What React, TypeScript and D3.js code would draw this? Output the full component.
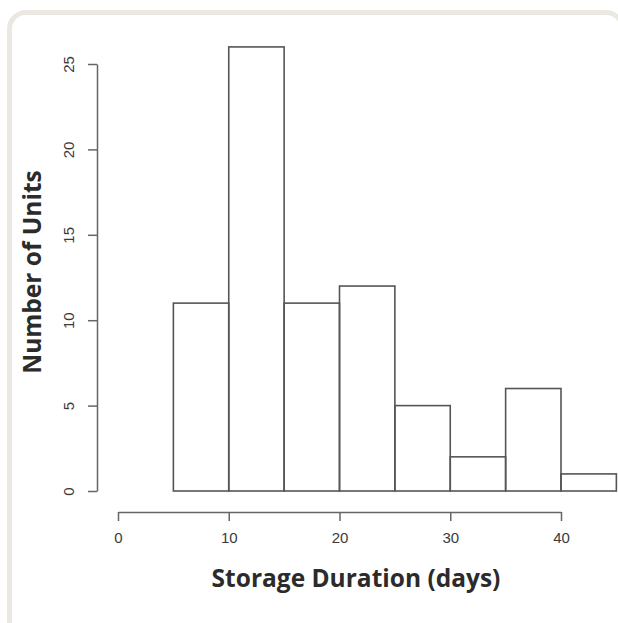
import * as d3 from 'd3'
import React, { useEffect, useRef } from 'react'

const binStarts = [5, 10, 15, 20, 25, 30, 35, 40]
const binWidth = 5
const counts = [11, 26, 11, 12, 5, 2, 6, 1]
const xTicks = [0, 10, 20, 30, 40]
const yTicks = [0, 5, 10, 15, 20, 25]

const Histogram = () => {
  const ref = useRef(null)

  useEffect(() => {
    const width = 618
    const height = 623
    const svg = d3.select(ref.current).attr('width', width).attr('height', height)
    svg.selectAll('*').remove()

    // card frame
    svg
      .append('path')
      .attr('d', 'M9.5,640 V29 A16.5,16.5 0 0 1 26,12.5 H606 A16.5,16.5 0 0 1 622.5,29 V640')
      .attr('fill', '#fff')
      .attr('stroke', '#ebe8e2')
      .attr('stroke-width', 5)

    const x = d3.scaleLinear().domain([0, 40]).range([118, 561])
    const y = d3.scaleLinear().domain([0, 25]).range([491, 64])

    // bars
    svg
      .selectAll('rect.bar')
      .data(binStarts)
      .enter()
      .append('rect')
      .attr('class', 'bar')
      .attr('x', (d) => x(d))
      .attr('width', (d) => x(d + binWidth) - x(d))
      .attr('y', (d, i) => y(counts[i]))
      .attr('height', (d, i) => y(0) - y(counts[i]))
      .attr('fill', 'none')
      .attr('stroke', '#555')
      .attr('stroke-width', 1.6)

    // x axis
    const gx = svg.append('g').attr('transform', 'translate(0,512)')
    gx.call(d3.axisBottom(x).tickValues(xTicks).tickSize(9).tickSizeOuter(0).tickPadding(11))
    gx.select('.domain').attr('stroke', '#666').attr('stroke-width', 1.5)
    gx.selectAll('.tick line').attr('stroke', '#666').attr('stroke-width', 1.5)
    gx.selectAll('text')
      .attr('font-family', 'Liberation Sans, Arial, sans-serif')
      .attr('font-size', 15)
      .attr('fill', '#3a3a3a')

    // y axis
    const gy = svg.append('g').attr('transform', 'translate(97,0)')
    gy.call(d3.axisLeft(y).tickValues(yTicks).tickSize(9).tickSizeOuter(0).tickFormat(d3.format('d')))
    gy.select('.domain').attr('stroke', '#666').attr('stroke-width', 1.5)
    gy.selectAll('.tick line').attr('stroke', '#666').attr('stroke-width', 1.5)
    gy.selectAll('text')
      .attr('x', null)
      .attr('dy', null)
      .attr('transform', 'translate(-29,0) rotate(-90)')
      .attr('text-anchor', 'middle')
      .attr('dominant-baseline', 'central')
      .attr('font-family', 'Liberation Sans, Arial, sans-serif')
      .attr('font-size', 15)
      .attr('fill', '#3a3a3a')

    // axis titles
    svg
      .append('text')
      .attr('x', 356)
      .attr('y', 587)
      .attr('text-anchor', 'middle')
      .attr('font-family', 'Open Sans, sans-serif')
      .attr('font-weight', 700)
      .attr('font-size', 24.5)
      .attr('fill', '#2b2b2b')
      .text('Storage Duration (days)')

    svg
      .append('text')
      .attr('transform', 'translate(41,272) rotate(-90)')
      .attr('text-anchor', 'middle')
      .attr('font-family', 'Open Sans, sans-serif')
      .attr('font-weight', 700)
      .attr('font-size', 24.5)
      .attr('fill', '#2b2b2b')
      .text('Number of Units')
  }, [])

  return <svg ref={ref} style={{ position: 'absolute', left: 0, top: 0 }}></svg>
}

export default function App() {
  return <Histogram />
}
